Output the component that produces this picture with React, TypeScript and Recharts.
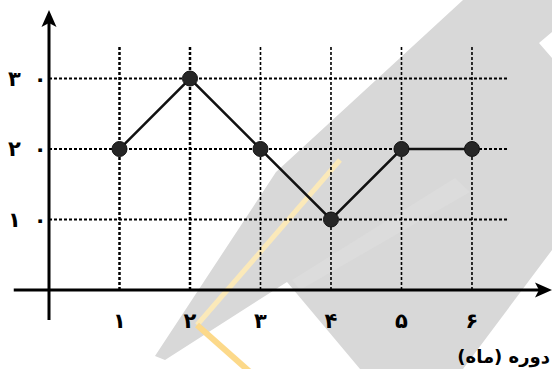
import React from "react";
import { LineChart, Line, XAxis, YAxis, ReferenceLine } from "recharts";

// ---- data ----
const months = [1, 2, 3, 4, 5, 6];
const values = [20, 30, 20, 10, 20, 20];
const yTicks = [10, 20, 30];
const xTickLabels = ["۱", "۲", "۳", "۴", "۵", "۶"];
const yTickLabels = ["۱۰", "۲۰", "۳۰"];
const axisTitle = "دوره (ماه)";

const data = months.map((m, i) => ({ x: m, y: values[i] }));

const X_MAX = 7.135;
const Y_MAX = 39.72;
const GRID_X_END = 6.51;
const GRID_Y_END = 34.75;
const AXIS_X_START = -0.5;
const AXIS_Y_START = -4.26;

const FONT = "'DejaVu Sans', sans-serif";

const ArrowLine = (props: any) => {
  const { x1, y1, x2, y2 } = props;
  const dx = x2 - x1;
  const dy = y2 - y1;
  const len = Math.sqrt(dx * dx + dy * dy) || 1;
  const ux = dx / len;
  const uy = dy / len;
  const L = 17;
  const W = 7.5;
  const bx = x2 - ux * L;
  const by = y2 - uy * L;
  const pts = `${x2},${y2} ${bx - uy * W},${by + ux * W} ${bx + ux * 4},${by + uy * 4} ${bx + uy * W},${by - ux * W}`;
  return (
    <g>
      <line x1={x1} y1={y1} x2={bx + ux * 4} y2={by + uy * 4} stroke="#000" strokeWidth={3} />
      <polygon points={pts} fill="#000" />
    </g>
  );
};

const XTick = (props: any) => {
  const { x, y, payload } = props;
  const idx = months.indexOf(payload.value);
  return (
    <text x={x} y={y + 38} textAnchor="middle" fontFamily={FONT} fontWeight="bold" fontSize={21} fill="#000">
      {xTickLabels[idx]}
    </text>
  );
};

const YTick = (props: any) => {
  const { y, payload } = props;
  const idx = yTicks.indexOf(payload.value);
  const chars = Array.from(yTickLabels[idx]);
  return (
    <text x={8} y={y + 7} textAnchor="start" fontFamily={FONT} fontWeight="bold" fontSize={21} fill="#000">
      {chars.map((c, i) => (
        <tspan key={i} dx={i === 0 ? 0 : 13}>
          {c}
        </tspan>
      ))}
    </text>
  );
};

const Watermark = () => (
  <svg width={552} height={369} style={{ position: "absolute", left: 0, top: 0 }}>
    <polygon
      points="463,0 552,0 552,32 539,43 552,58 552,250 463,369 360,369 287,282 165,360 155,356 276,172"
      fill="#d8d8d8"
    />
    <polygon points="292,280 455,178 470,192 300,290" fill="#dcdcdc" />
    <polyline points="340,160 197,325" fill="none" stroke="#fbe9b9" strokeWidth={5} />
    <polyline points="197,325 250,372" fill="none" stroke="#fcd98a" strokeWidth={6} />
  </svg>
);

export default function App() {
  return (
    <div style={{ position: "absolute", left: 0, top: 0, width: 552, height: 369, background: "#fff" }}>
      <Watermark />
      <div style={{ position: "absolute", left: 0, top: 0 }}>
        <LineChart width={552} height={369} data={data} margin={{ top: 10, right: 0, left: 0, bottom: 49 }}>
          <XAxis
            dataKey="x"
            type="number"
            domain={[0, X_MAX]}
            ticks={months}
            axisLine={false}
            tickLine={false}
            tickSize={0}
            tickMargin={0}
            height={30}
            tick={<XTick />}
            interval={0}
          />
          <YAxis
            type="number"
            domain={[0, Y_MAX]}
            ticks={yTicks}
            axisLine={false}
            tickLine={false}
            tickSize={0}
            tickMargin={0}
            width={49}
            tick={<YTick />}
            interval={0}
          />
          {yTicks.map((v) => (
            <ReferenceLine
              key={"h" + v}
              segment={[{ x: 0, y: v }, { x: GRID_X_END, y: v }]}
              stroke="#000"
              strokeWidth={2}
              strokeDasharray="3 2"
              ifOverflow="visible"
            />
          ))}
          {months.map((m) => (
            <ReferenceLine
              key={"v" + m}
              segment={[{ x: m, y: 0 }, { x: m, y: GRID_Y_END }]}
              stroke="#000"
              strokeWidth={m <= 2 ? 2.5 : 1.6}
              strokeDasharray="3 2"
              ifOverflow="visible"
            />
          ))}
          <ReferenceLine
            segment={[{ x: 0, y: AXIS_Y_START }, { x: 0, y: Y_MAX }]}
            ifOverflow="visible"
            shape={<ArrowLine />}
          />
          <ReferenceLine
            segment={[{ x: AXIS_X_START, y: 0 }, { x: X_MAX, y: 0 }]}
            ifOverflow="visible"
            shape={<ArrowLine />}
          />
          <Line
            type="linear"
            dataKey="y"
            stroke="#111"
            strokeWidth={2.5}
            dot={{ r: 7.5, fill: "#262626", stroke: "#111", strokeWidth: 1 }}
            isAnimationActive={false}
          />
        </LineChart>
      </div>
      <svg width={552} height={369} style={{ position: "absolute", left: 0, top: 0, pointerEvents: "none" }}>
        <text x={550} y={363} textAnchor="end" fontFamily={FONT} fontWeight="bold" fontSize={18} fill="#000">
          {axisTitle}
        </text>
      </svg>
    </div>
  );
}
